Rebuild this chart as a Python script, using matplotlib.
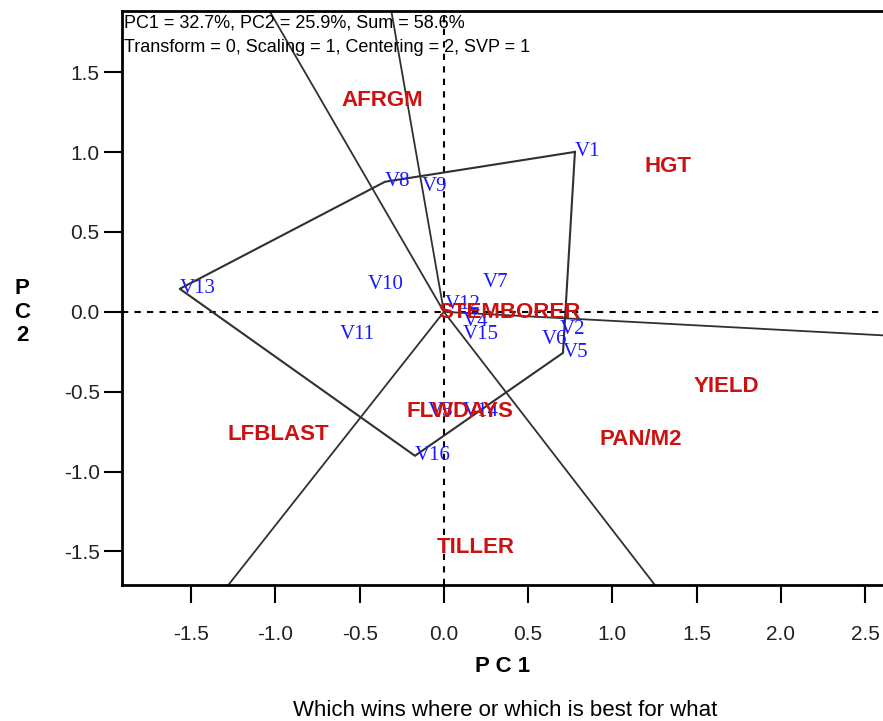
import numpy as np
import matplotlib.pyplot as plt

# genotype scores (PC1, PC2)
gen_names = ['V1', 'V2', 'V3', 'V4', 'V5', 'V6', 'V7', 'V8', 'V9', 'V10',
             'V11', 'V12', 'V13', 'V14', 'V15', 'V16']
gen_pc1 = [0.778, 0.689, -0.095, 0.113, 0.707, 0.582, 0.232, -0.350, -0.131, -0.451,
           -0.618, 0.006, -1.568, 0.113, 0.113, -0.172]
gen_pc2 = [1.001, -0.113, -0.626, -0.063, -0.257, -0.175, 0.181, 0.814, 0.782, 0.169,
           -0.144, 0.044, 0.144, -0.626, -0.144, -0.901]

# trait (environment) label positions
env_names = ['AFRGM', 'HGT', 'YIELD', 'PAN/M2', 'LFBLAST', 'TILLER', 'FLWDAYS', 'STEMBORER']
env_pc1 = [-0.368, 1.330, 1.675, 1.170, -0.986, 0.190, 0.095, 0.392]
env_pc2 = [1.320, 0.907, -0.469, -0.801, -0.770, -1.477, -0.626, -0.006]

# convex hull of the genotypes, in order
hull = ['V1', 'V5', 'V16', 'V13', 'V8']

pc_info = "PC1 = 32.7%, PC2 = 25.9%, Sum = 58.6%\nTransform = 0, Scaling = 1, Centering = 2, SVP = 1"

fig = plt.figure(figsize=(8.83, 7.21), dpi=100)
ax = fig.add_axes([0.138, 0.189, 0.862, 0.796])
ax.set_xlim(-1.912, 2.607)
ax.set_ylim(-1.708, 1.884)

# axes through origin
ax.axhline(0, color='black', lw=1.5, ls=(0, (3, 3)), zorder=1)
ax.axvline(0, color='black', lw=1.5, ls=(0, (3, 3)), zorder=1)

# polygon
pts = {n: np.array([x, y]) for n, x, y in zip(gen_names, gen_pc1, gen_pc2)}
poly = np.array([pts[n] for n in hull + [hull[0]]])
ax.plot(poly[:, 0], poly[:, 1], color='#303030', lw=1.5, zorder=2)

# rays from the origin, perpendicular to each side
for i in range(len(hull)):
    a = pts[hull[i]]
    b = pts[hull[(i + 1) % len(hull)]]
    d = b - a
    foot = a - np.dot(a, d) / np.dot(d, d) * d
    end = foot / np.linalg.norm(foot) * 10
    ax.plot([0, end[0]], [0, end[1]], color='#303030', lw=1.3, zorder=2)

for n, x, y in zip(gen_names, gen_pc1, gen_pc2):
    ax.text(x, y, n, color='#1a1aff', fontsize=15, family='Liberation Serif',
            ha='left', va='center', zorder=3)

for n, x, y in zip(env_names, env_pc1, env_pc2):
    ax.text(x, y, n, color='#cc1111', fontsize=16, family='Liberation Sans',
            fontweight='bold', ha='center', va='center', zorder=4)

ax.text(0.003, 0.994, pc_info, transform=ax.transAxes, ha='left', va='top',
        fontsize=13, family='Liberation Sans', linespacing=1.6)

ax.set_xticks(np.arange(-1.5, 2.51, 0.5))
ax.set_yticks(np.arange(-1.5, 1.51, 0.5))
ax.set_xticklabels(['%.1f' % v for v in np.arange(-1.5, 2.51, 0.5)])
ax.set_yticklabels(['%.1f' % v for v in np.arange(-1.5, 1.51, 0.5)])
ax.tick_params(direction='out', length=13, width=1.5, labelsize=15)
ax.tick_params(axis='x', pad=16)
ax.tick_params(axis='y', pad=3)
for lab in ax.get_xticklabels() + ax.get_yticklabels():
    lab.set_family('Liberation Sans')
    lab.set_color('#222222')

for s in ['left', 'bottom', 'top']:
    ax.spines[s].set_linewidth(2)
ax.spines['right'].set_visible(False)

fig.text(0.569, 0.076, 'P C 1', ha='center', va='center', fontsize=16,
         fontweight='bold', family='Liberation Sans')
fig.text(0.025, 0.567, 'P\nC\n2', ha='center', va='center', fontsize=16,
         fontweight='bold', family='Liberation Sans', linespacing=1.15)
fig.text(0.572, 0.015, 'Which wins where or which is best for what', ha='center',
         va='center', fontsize=16, family='Liberation Sans')

fig.savefig('out.png', dpi=100)
